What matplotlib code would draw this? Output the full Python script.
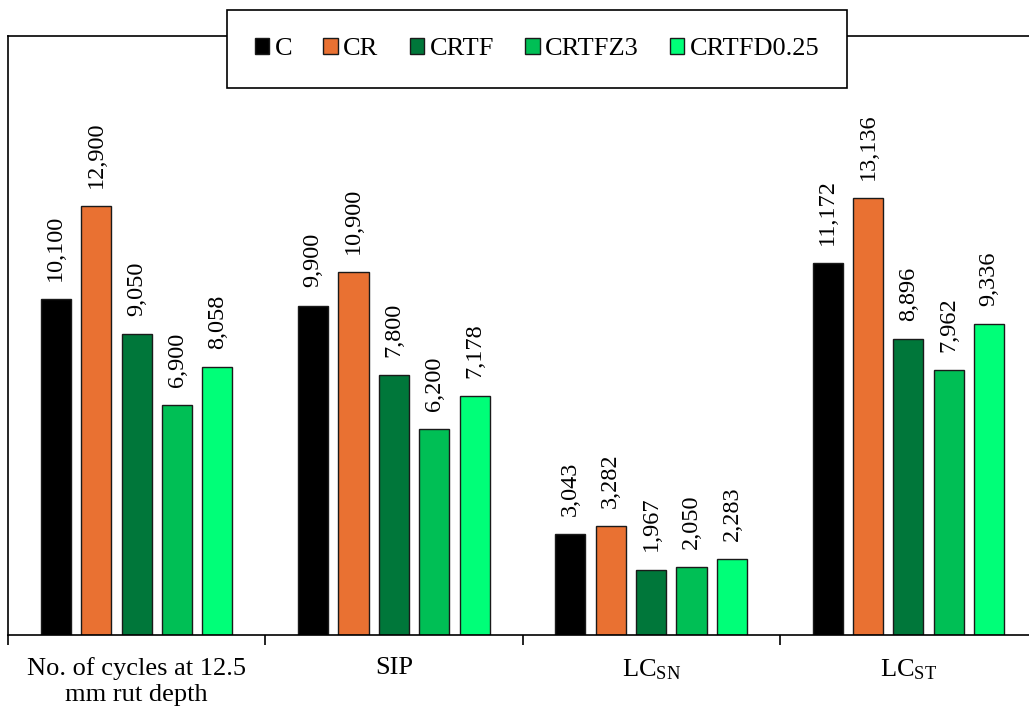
import matplotlib
matplotlib.use("Agg")
import matplotlib.pyplot as plt
import numpy as np
from matplotlib.patches import Patch

plt.rcParams['font.family'] = ['Liberation Serif', 'DejaVu Serif']
plt.rcParams['mathtext.fontset'] = 'custom'
plt.rcParams['mathtext.rm'] = 'Liberation Serif'
plt.rcParams['mathtext.it'] = 'Liberation Serif:italic'

categories = ["No. of cycles at 12.5\nmm rut depth", "SIP", r"LC$_{\mathregular{SN}}$", r"LC$_{\mathregular{ST}}$"]
series = ["C", "CR", "CRTF", "CRTFZ3", "CRTFD0.25"]
values = {
    "C": [10100, 9900, 3043, 11172],
    "CR": [12900, 10900, 3282, 13136],
    "CRTF": [9050, 7800, 1967, 8896],
    "CRTFZ3": [6900, 6200, 2050, 7962],
    "CRTFD0.25": [8058, 7178, 2283, 9336],
}
colors = ["#000000", "#E97132", "#00773A", "#00BF55", "#00FF78"]

fig = plt.figure(figsize=(10.29, 7.14), dpi=100)
ax = fig.add_axes([8/1029, 1-635/714, (1037-8)/1029, (635-36)/714])

x = np.arange(len(categories))
step = 0.157
width = 0.117
for i, s in enumerate(series):
    pos = x + (i - 2) * step
    ax.bar(pos, values[s], width, color=colors[i], edgecolor='#1a1a1a', linewidth=1.0, label=s)
    for xi, v in zip(pos, values[s]):
        ax.annotate(f"{v:,}", (xi, v), xytext=(0, 13), textcoords='offset points',
                    rotation=90, ha='center', va='bottom', fontsize=17.5)

ax.set_xlim(-0.5, 3.5)
ax.set_ylim(0, 18000)
ax.set_yticks([])
ax.set_xticks(x)
ax.set_xticklabels(categories, fontsize=19, linespacing=1.25)
ax.tick_params(axis='x', which='major', length=0, pad=16)
ax.set_xticks(np.arange(-0.5, 3.6, 1.0), minor=True)
ax.tick_params(axis='x', which='minor', length=7, width=1.2, direction='out')
for sp in ax.spines.values():
    sp.set_linewidth(1.2)
ax.spines['right'].set_visible(False)

handles = [Patch(facecolor=c, edgecolor='#1a1a1a', label=s) for c, s in zip(colors, series)]
leg = fig.legend(handles=handles, loc='center', bbox_to_anchor=(537/1029, 1-49/714), ncol=5,
                 fontsize=19, frameon=True, fancybox=False, edgecolor='black',
                 handlelength=0.55, handleheight=0.55, handletextpad=0.2, columnspacing=1.18,
                 borderpad=1.05, framealpha=1)
leg.get_frame().set_linewidth(1.2)

fig.savefig("out.png", dpi=100)
